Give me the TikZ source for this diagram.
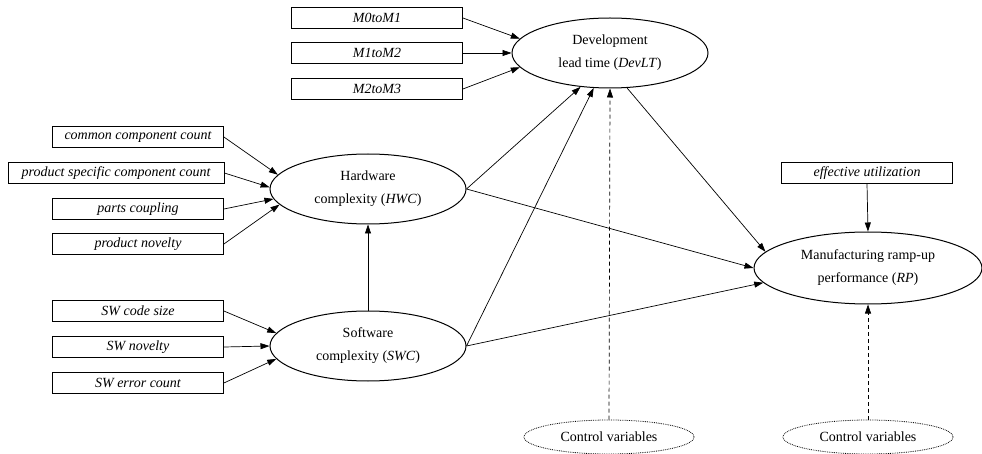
\documentclass[tikz,border=0pt]{standalone}
\usepackage{fontspec}
\setmainfont{Liberation Serif}
\usetikzlibrary{shapes.geometric,arrows.meta}

\begin{document}
\begin{tikzpicture}[x=1pt,y=-1pt,
  font=\fontsize{14}{23}\selectfont,
  varbox/.style={draw,line width=0.8pt,minimum width=171pt,minimum height=21pt,inner sep=0pt,font=\fontsize{14}{23}\selectfont\itshape},
  construct/.style={draw,ellipse,line width=1pt,minimum width=196pt,minimum height=70pt,inner sep=0pt,align=center},
  control/.style={draw,ellipse,densely dotted,line width=0.8pt,minimum width=170pt,minimum height=34pt,inner sep=0pt},
  arr/.style={line width=0.7pt,-{Triangle[length=9pt,width=6pt]}},
  darr/.style={arr,dashed,dash pattern=on 4pt off 3pt}
]
\path[use as bounding box] (0,0) rectangle (982,454);

% latent constructs
\node[construct] (dev) at (610,53) {Development\\lead time (\textit{DevLT})};
\node[construct] (hwc) at (368,189) {Hardware\\complexity (\textit{HWC})};
\node[construct] (swc) at (368,346) {Software\\complexity (\textit{SWC})};
\node[construct,minimum width=228pt,minimum height=72pt] (rp) at (868,268) {Manufacturing ramp-up\\performance (\textit{RP})};

% milestone indicators
\node[varbox] (m0) at (377,18) {M0toM1};
\node[varbox] (m1) at (377,53) {M1toM2};
\node[varbox] (m2) at (377,89) {M2toM3};

% hardware indicators
\node[varbox] (ccc) at (138,137) {common component count};
\node[varbox,minimum width=216pt] (pscc) at (116,173) {product specific component count};
\node[varbox] (pc) at (138,209) {parts coupling};
\node[varbox] (pn) at (138,244) {product novelty};

% software indicators
\node[varbox] (swcs) at (138,311) {SW code size};
\node[varbox] (swn) at (138,347) {SW novelty};
\node[varbox] (swe) at (138,383) {SW error count};

% ramp-up indicator
\node[varbox] (eu) at (867,173) {effective utilization};

% control variables
\node[control] (cv1) at (609,437) {Control variables};
\node[control] (cv2) at (868,437) {Control variables};

% indicator arrows
\draw[arr] (m0.east) -- (dev.171);
\draw[arr] (m1.east) -- (dev.180);
\draw[arr] (m2.east) -- (dev.-171);

\draw[arr] (ccc.east) -- (hwc.171);
\draw[arr] (pscc.east) -- (hwc.179);
\draw[arr] (pc.east) -- (hwc.-174);
\draw[arr] (pn.east) -- (hwc.-170);

\draw[arr] (swcs.east) -- (swc.172);
\draw[arr] (swn.east) -- (swc.180);
\draw[arr] (swe.east) -- (swc.-172);

\draw[arr] (eu.south) -- (rp.north);

% structural paths
\draw[arr] (swc.north) -- (hwc.south);
\draw[arr] (hwc.east) -- (dev.-131);
\draw[arr] (swc.east) -- (dev.-115);
\draw[arr] (hwc.east) -- (rp.west);
\draw[arr] (swc.east) -- (rp.-172);
\draw[arr] (dev.-64) -- (rp.171);

% control paths
\draw[darr] (cv1.north) -- (dev.south);
\draw[darr] (cv2.north) -- (rp.south);
\end{tikzpicture}
\end{document}
